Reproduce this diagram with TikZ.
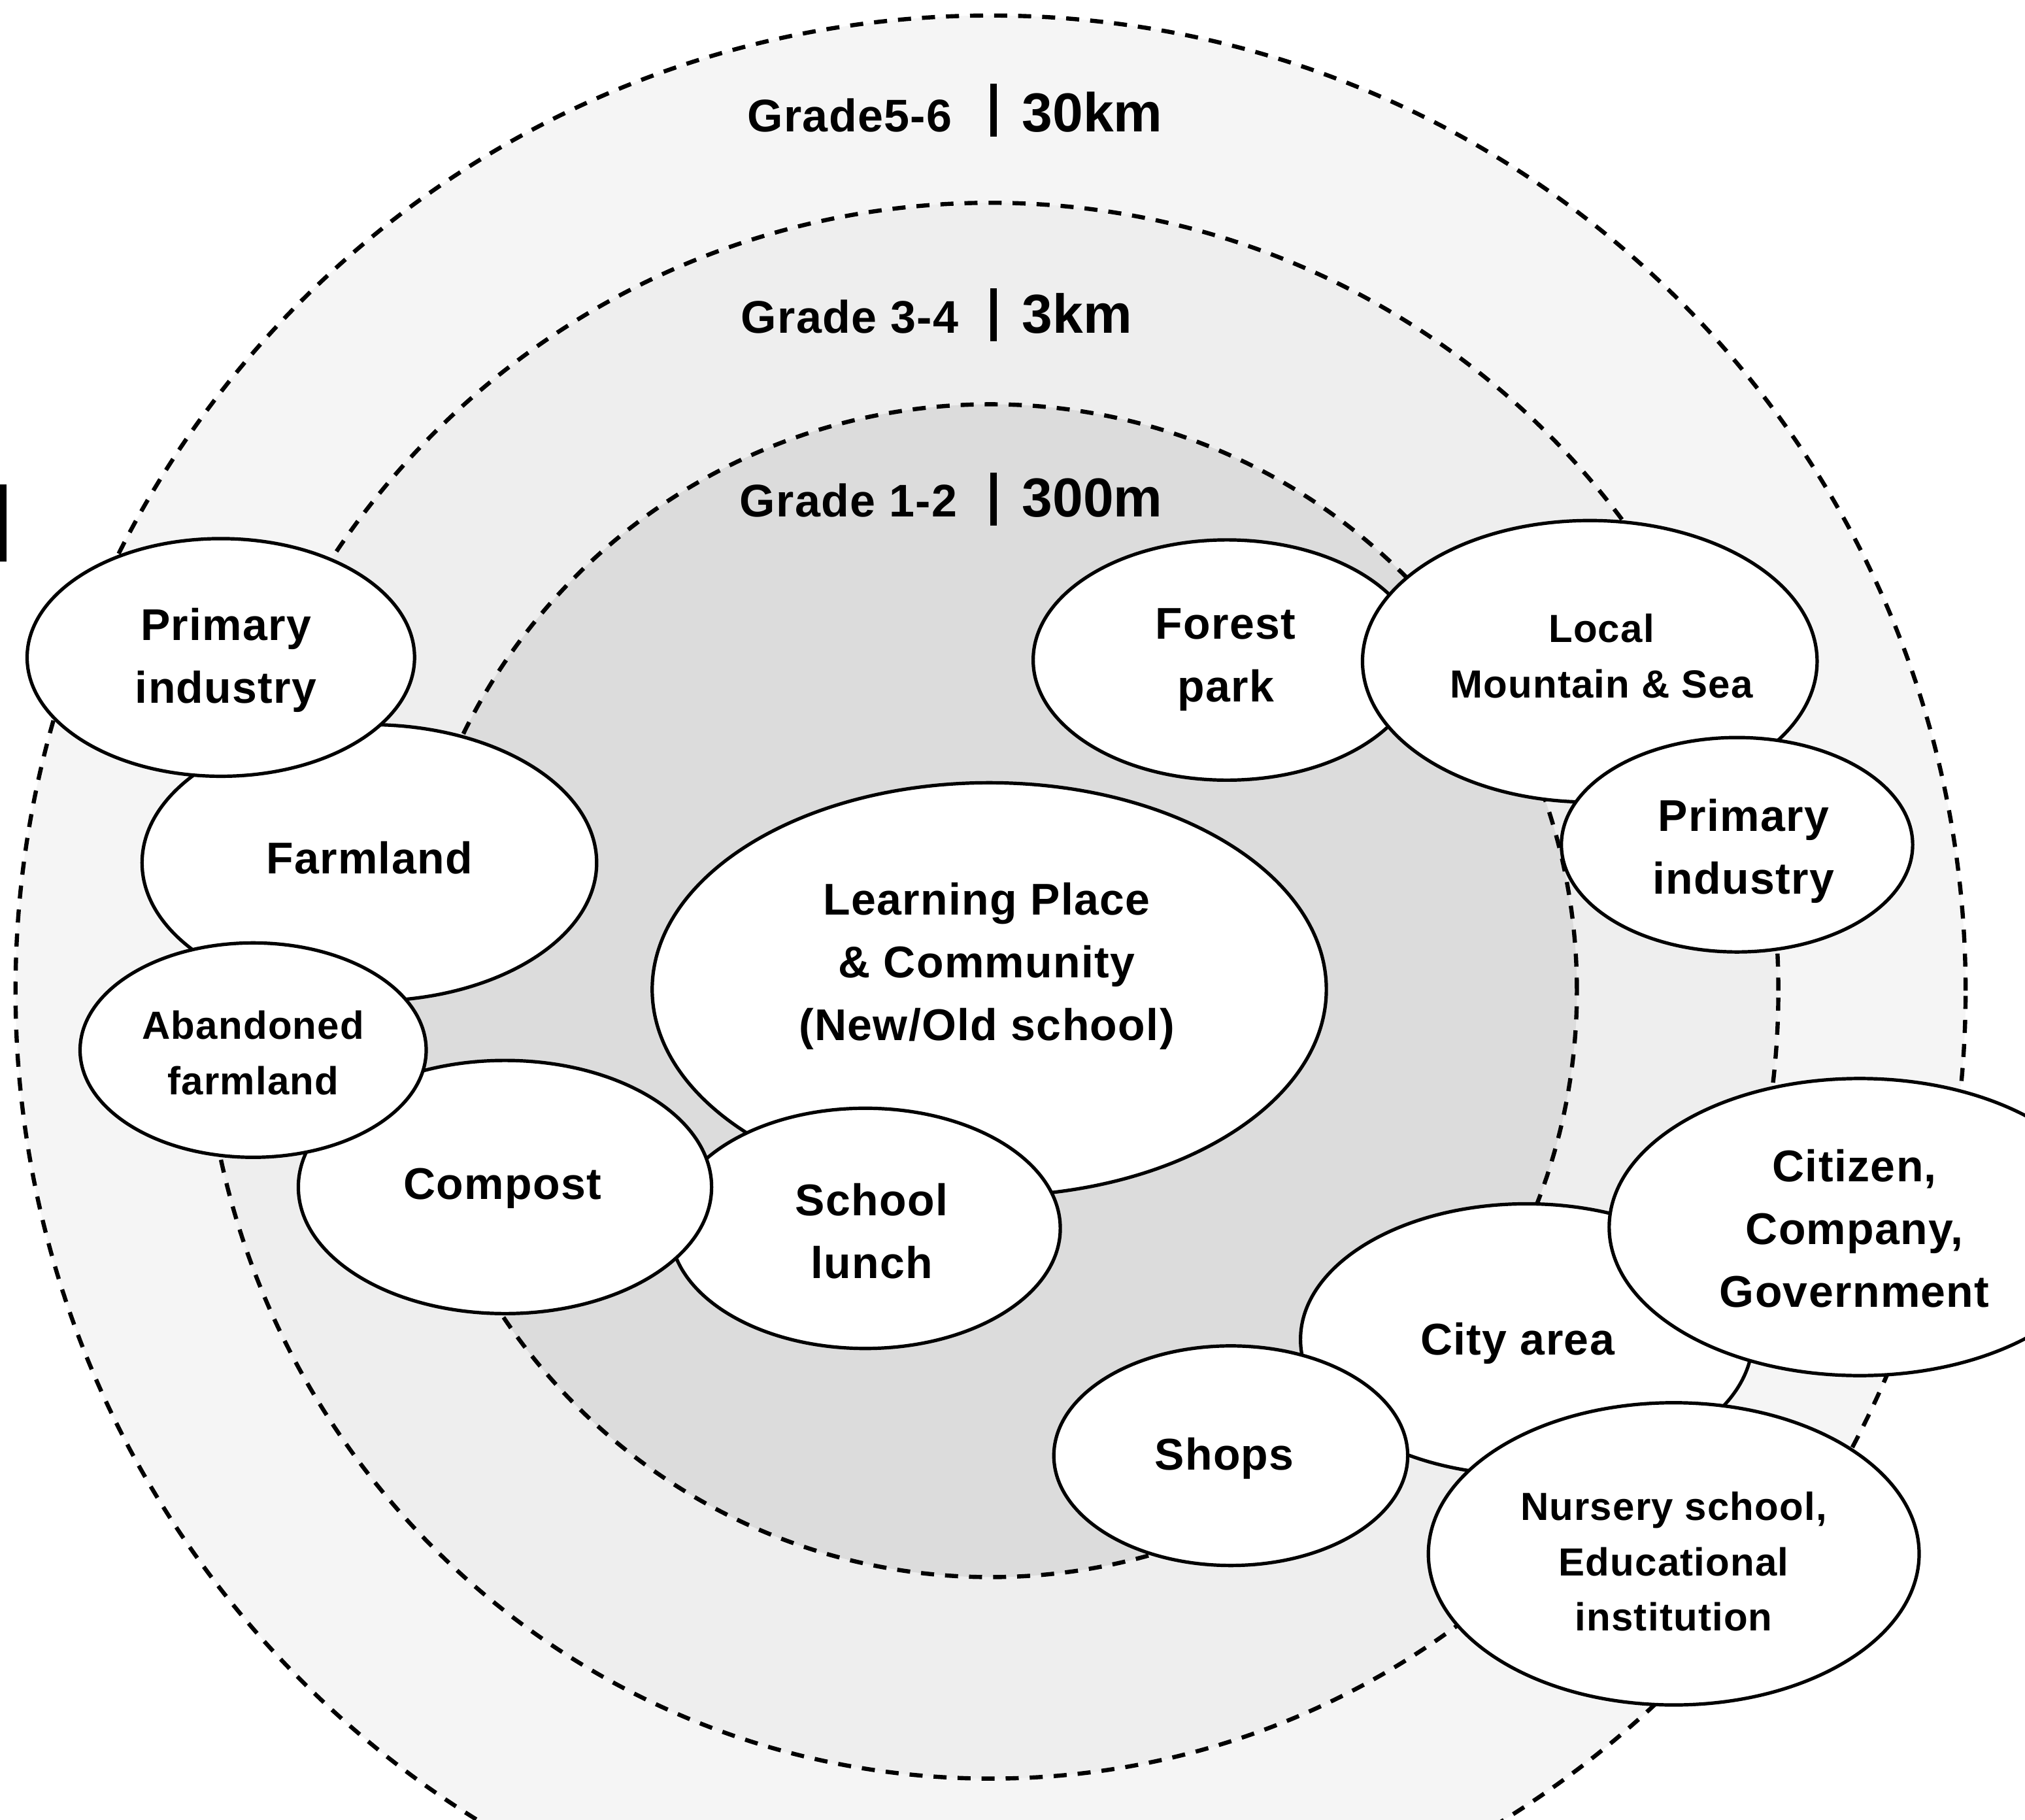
\documentclass[tikz,border=0pt]{standalone}
\usepackage{fontspec}
\setmainfont{Liberation Sans}[LetterSpace=2]
\usetikzlibrary{shapes.geometric}
\definecolor{ringA}{HTML}{F5F5F5}
\definecolor{ringB}{HTML}{EEEEEE}
\definecolor{ringC}{HTML}{DCDCDC}
\begin{document}
\begin{tikzpicture}[x=0.494pt, y=-0.494pt,
  ring/.style={draw=black, line width=1.6pt, dash pattern=on 5pt off 4.2pt},
  bub/.style={ellipse, draw=black, fill=white, line width=1.3pt, inner sep=0pt},
  bigtxt/.style={align=center, inner sep=0pt, font=\bfseries\fontsize{17}{24}\selectfont},
  smalltxt/.style={align=center, inner sep=0pt, font=\bfseries\fontsize{15}{21.2}\selectfont},
  sz/.style 2 args={minimum width=#1*0.494pt, minimum height=#2*0.494pt},
  grade/.style={anchor=base, inner sep=0pt, font=\bfseries\fontsize{17.5}{20}\selectfont},
  dist/.style={anchor=base west, inner sep=0pt,
    font=\bfseries\fontsize{21}{24}\selectfont\addfontfeature{LetterSpace=0}},
  sepbar/.style={fill=black}
]
\useasboundingbox (0,0) rectangle (1568,1409);
\begin{scope}
\clip (0,0) rectangle (1568,1409);
% rings
\filldraw[fill=ringA, ring] (767,767) circle[radius=372.97pt];
\filldraw[fill=ringB, ring] (767,767) circle[radius=301.34pt];
\filldraw[fill=ringC, ring] (767,767) circle[radius=224.28pt];
% left mark
\fill[black] (0,375) rectangle (5,435);
% grade labels
\node[grade] (g56) at (658,102) {Grade5-6};
\node[dist] (d56) at (791,102) {30km};
\fill[sepbar] (767,65) rectangle (772,106);
\node[grade] (g34) at (658,258) {Grade 3-4};
\node[dist] (d34) at (791,258) {3km};
\fill[sepbar] (767,223) rectangle (772,264);
\node[grade] (g12) at (657,400) {Grade 1-2};
\node[dist] (d12) at (791,400) {300m};
\fill[sepbar] (767,366) rectangle (772,407);
% left cluster
\node[bub, sz={352}{214}] (farm) at (286,668) {};
\node[bigtxt] (farm-t) at (286,664) {Farmland};
\node[bub, sz={300}{184}] (pl) at (171,509) {};
\node[bigtxt] (pl-t) at (175,511) {Primary\\industry};
\node[bub, sz={522}{320}] (lp) at (766,766) {};
\node[bigtxt] (lp-t) at (764,748) {Learning Place\\\& Community\\(New/Old school)};
\node[bub, sz={302}{186}] (lunch) at (670,951) {};
\node[bigtxt] (lunch-t) at (675,953) {School\\lunch};
\node[bub, sz={320}{196}] (comp) at (391,919) {};
\node[bigtxt] (comp-t) at (389,920) {Compost};
\node[bub, sz={268}{166}] (aband) at (196,813) {};
\node[smalltxt] (aband-t) at (196,815) {Abandoned\\farmland};
% upper right cluster
\node[bub, sz={300}{186}] (forest) at (950,511) {};
\node[bigtxt] (forest-t) at (949,511) {Forest\\park};
\node[bub, sz={352}{218}] (local) at (1231,512) {};
\node[smalltxt] (local-t) at (1240,508) {Local\\Mountain \& Sea};
\node[bub, sz={272}{166}] (pr) at (1345,654) {};
\node[bigtxt] (pr-t) at (1350,659) {Primary\\industry};
% lower right cluster
\node[bub, sz={350}{210}] (city) at (1182,1037) {};
\node[bigtxt] (city-t) at (1175,1040) {City area};
\node[bub, sz={388}{230}] (cit) at (1440,950) {};
\node[bigtxt] (cit-t) at (1436,951) {Citizen,\\Company,\\Government};
\node[bub, sz={274}{170}] (shops) at (953,1127) {};
\node[bigtxt] (shops-t) at (948,1129) {Shops};
\node[bub, sz={380}{234}] (nurs) at (1296,1203) {};
\node[smalltxt] (nurs-t) at (1296,1209) {Nursery school,\\Educational\\institution};
\end{scope}
\end{tikzpicture}
\end{document}
